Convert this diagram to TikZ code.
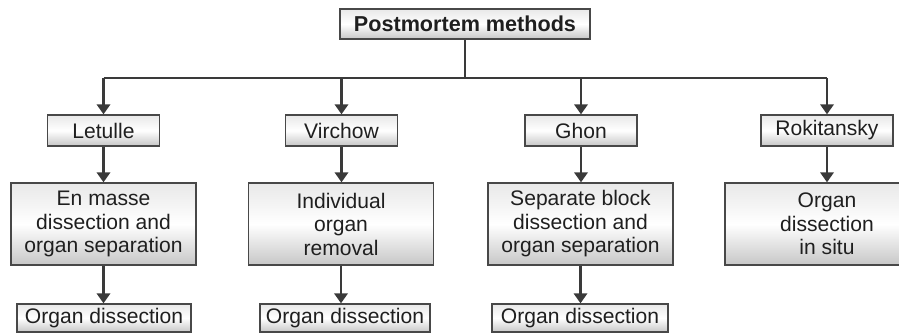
\documentclass[tikz,border=0pt]{standalone}
\usepackage{fontspec}
\setmainfont{Liberation Sans}
\usepackage{xcolor}
\usetikzlibrary{arrows.meta}
\definecolor{pmline}{RGB}{58,58,58}
\definecolor{pmedge}{RGB}{72,72,72}

\begin{document}
\begin{tikzpicture}[x=.75pt,y=-.75pt,
  font=\fontsize{15.8}{17.6}\selectfont,
  pmbox/.style={draw=pmedge,line width=1pt,top color=black!9,bottom color=black!22,middle color=white,
    align=center,inner sep=0pt,text=black!88},
  pmtitle/.style={pmbox,font=\fontsize{16.2}{18}\selectfont\bfseries,minimum width=187.5pt,minimum height=22.5pt},
  method/.style={pmbox,minimum width=84pt,minimum height=23.25pt},
  stage/.style={pmbox,minimum width=138.75pt,minimum height=61.5pt},
  final/.style={pmbox,minimum width=130.5pt,minimum height=21pt},
  bus/.style={draw=pmline,line width=1.8pt},
  flow/.style={-{Triangle[length=7.5pt,width=10pt]},draw=pmline,line width=1.8pt}]

\clip (0,0) rectangle (899,333);

% top of the tree
\node[pmtitle] (title) at (465,24) {Postmortem methods};
\coordinate (split) at (465,78);

% the four methods
\node[method] (letulle) at (103.5,130.5) {Letulle};
\node[method] (virchow) at (341.5,130.5) {Virchow};
\node[method] (ghon) at (581,130.5) {Ghon};
\node[method,minimum width=99pt] (roki) at (827,130.5) {Rokitansky};

\draw[bus] (title.south)--(split);
\draw[bus] (letulle |- split)--(roki |- split);
\draw[flow] (letulle |- split)--(letulle.north);
\draw[flow] (virchow |- split)--(virchow.north);
\draw[flow] (ghon |- split)--(ghon.north);
\draw[flow] (roki |- split)--(roki.north);

% what each method does
\node[stage] (letullework) at (103.5,224) {En masse\\dissection and\\organ separation};
\node[stage] (virchowwork) at (341,224) {Individual\\organ\\removal};
\node[stage] (ghonwork) at (580.5,224) {Separate block\\dissection and\\organ separation};
\node[stage,minimum width=153pt] (rokiwork) at (827,224) {Organ\\dissection\\in situ};

\draw[flow] (letulle.south)--(letulle.south |- letullework.north);
\draw[flow] (virchow.south)--(virchow.south |- virchowwork.north);
\draw[flow] (ghon.south)--(ghon.south |- ghonwork.north);
\draw[flow] (roki.south)--(rokiwork.north);

% last step
\node[final] (letullecut) at (104,318) {Organ dissection};
\node[final,minimum width=127.5pt] (virchowcut) at (345,318) {Organ dissection};
\node[final,minimum width=132pt] (ghoncut) at (580,318) {Organ dissection};

\draw[flow] (letullework.south)--(letullework.south |- letullecut.north);
\draw[flow] (virchowwork.south)--(virchowwork.south |- virchowcut.north);
\draw[flow] (ghonwork.south)--(ghonwork.south |- ghoncut.north);

\end{tikzpicture}
\end{document}
